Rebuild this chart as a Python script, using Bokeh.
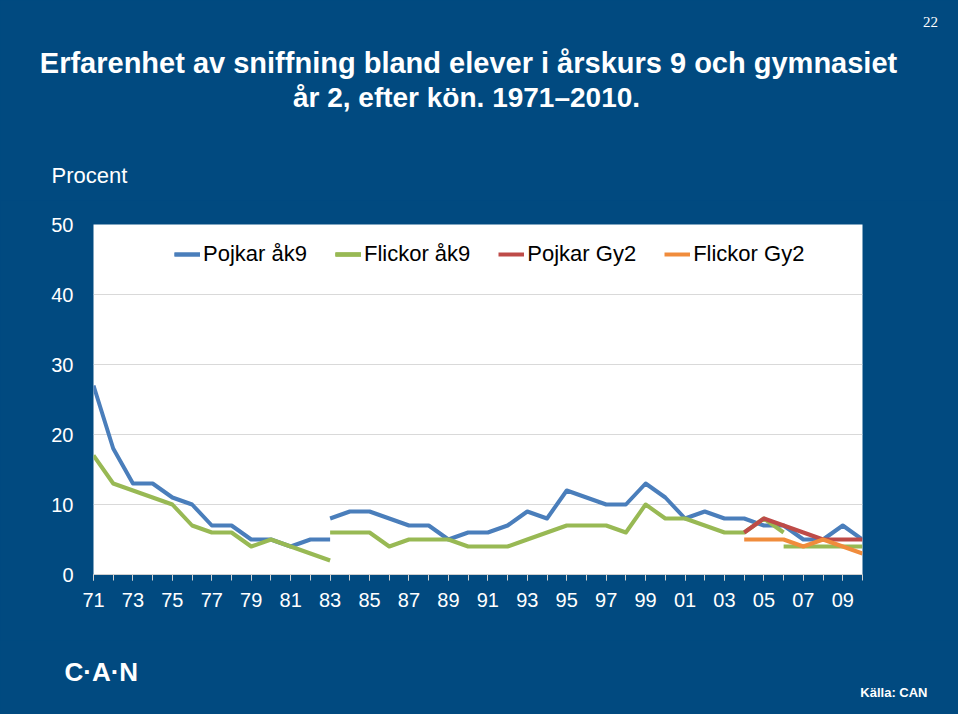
from bokeh.plotting import figure
from bokeh.layouts import column
from bokeh.models import Range1d, FixedTicker, Legend, LegendItem
from bokeh.core.properties import value
from bokeh.embed import file_html
from bokeh.resources import INLINE

# ---- data ----
years_a = [1971, 1972, 1973, 1974, 1975, 1976, 1977, 1978, 1979, 1980, 1981, 1982, 1983]
pojkar_ak9_a = [27, 18, 13, 13, 11, 10, 7, 7, 5, 5, 4, 5, 5]
flickor_ak9_a = [17, 13, 12, 11, 10, 7, 6, 6, 4, 5, 4, 3, 2]

years_b = [1983, 1984, 1985, 1986, 1987, 1988, 1989, 1990, 1991, 1992, 1993, 1994, 1995,
           1996, 1997, 1998, 1999, 2000, 2001, 2002, 2003, 2004, 2005, 2006, 2007, 2008,
           2009, 2010]
pojkar_ak9_b = [8, 9, 9, 8, 7, 7, 5, 6, 6, 7, 9, 8, 12, 11, 10, 10, 13, 11, 8, 9, 8, 8, 7, 7,
                5, 5, 7, 5]

years_fb = [1983, 1984, 1985, 1986, 1987, 1988, 1989, 1990, 1991, 1992, 1993, 1994, 1995,
            1996, 1997, 1998, 1999, 2000, 2001, 2002, 2003, 2004, 2005, 2006]
flickor_ak9_b = [6, 6, 6, 4, 5, 5, 5, 4, 4, 4, 5, 6, 7, 7, 7, 6, 10, 8, 8, 7, 6, 6, 8, 6]

years_fc = [2006, 2007, 2008, 2009, 2010]
flickor_ak9_c = [4, 4, 4, 4, 4]

years_gy = [2004, 2005, 2006, 2007, 2008, 2009, 2010]
pojkar_gy2 = [6, 8, 7, 6, 5, 5, 5]
flickor_gy2 = [5, 5, 5, 4, 5, 4, 3]

x_tick_years = [1971, 1973, 1975, 1977, 1979, 1981, 1983, 1985, 1987, 1989, 1991, 1993,
                1995, 1997, 1999, 2001, 2003, 2005, 2007, 2009]
x_tick_labels = ["71", "73", "75", "77", "79", "81", "83", "85", "87", "89", "91", "93",
                 "95", "97", "99", "01", "03", "05", "07", "09"]
all_years = list(range(1971, 2011))
y_ticks = [0, 10, 20, 30, 40, 50]

series_names = ["Pojkar åk9", "Flickor åk9", "Pojkar Gy2", "Flickor Gy2"]

title_1 = "Erfarenhet av sniffning bland elever i årskurs 9 och gymnasiet"
title_2 = "år 2, efter kön. 1971–2010."
page_no = "22"
y_title = "Procent"
logo = "C·A·N"
source = "Källa: CAN"

# ---- style ----
BG = "#014A80"
C_BLUE = "#4A7EBB"
C_GREEN = "#98B954"
C_RED = "#BE4B48"
C_ORANGE = "#F08C3C"
FONT = "Liberation Sans"

W = 958
TOP_H = 200          # header strip (page y 0..200)
CHART_H = 440        # chart strip  (page y 200..640)
BOT_H = 74           # footer strip (page y 640..714)
FL, FR, FT, FB = 93, 862, 224, 574  # frame edges in page pixels


def text_panel(h):
    f = figure(width=W, height=h, output_backend="svg", toolbar_location=None,
               x_range=Range1d(0, W), y_range=Range1d(h, 0),
               x_axis_type=None, y_axis_type=None,
               min_border=0, min_border_left=0, min_border_right=0,
               min_border_top=0, min_border_bottom=0)
    f.frame_align = False
    f.background_fill_color = BG
    f.border_fill_color = BG
    f.outline_line_color = None
    f.grid.visible = False
    return f


def put(f, txt, x, y, size, align="left", bold=False, font=FONT):
    f.text(x=[x], y=[y], text=[txt], text_color="white", text_font=value(font),
           text_font_size=size, text_font_style="bold" if bold else "normal",
           text_align=align, text_baseline="alphabetic")


# ---- header ----
top = text_panel(TOP_H)
put(top, title_1, 468, 62, "29px", "center", True)
put(top, title_2, 466, 97, "28px", "center", True)
put(top, page_no, 930, 21, "15px", "center", False, "Liberation Serif")
put(top, y_title, 51, 175, "22px")

# ---- chart ----
p = figure(width=W, height=CHART_H, output_backend="svg", toolbar_location=None,
           x_range=Range1d(1971, 2010), y_range=Range1d(0, 50),
           min_border_left=FL, min_border_right=W - FR,
           min_border_top=FT - TOP_H, min_border_bottom=TOP_H + CHART_H - FB)
p.frame_align = False
p.background_fill_color = "white"
p.border_fill_color = BG
p.outline_line_color = None

lw = 4
r_b1 = p.line(years_a, pojkar_ak9_a, line_color=C_BLUE, line_width=lw, line_join="round")
r_b2 = p.line(years_b, pojkar_ak9_b, line_color=C_BLUE, line_width=lw, line_join="round")
r_g1 = p.line(years_a, flickor_ak9_a, line_color=C_GREEN, line_width=lw, line_join="round")
r_g2 = p.line(years_fb, flickor_ak9_b, line_color=C_GREEN, line_width=lw, line_join="round")
r_g3 = p.line(years_fc, flickor_ak9_c, line_color=C_GREEN, line_width=lw, line_join="round")
r_r = p.line(years_gy, pojkar_gy2, line_color=C_RED, line_width=lw, line_join="round")
r_o = p.line(years_gy, flickor_gy2, line_color=C_ORANGE, line_width=lw, line_join="round")

legend = Legend(items=[
    LegendItem(label=series_names[0], renderers=[r_b1, r_b2]),
    LegendItem(label=series_names[1], renderers=[r_g1, r_g2, r_g3]),
    LegendItem(label=series_names[2], renderers=[r_r]),
    LegendItem(label=series_names[3], renderers=[r_o]),
], orientation="horizontal", location=(81, 307))
legend.background_fill_alpha = 0
legend.border_line_color = None
legend.padding = 4
legend.margin = 0
legend.glyph_width = 26
legend.glyph_height = 20
legend.label_standoff = 3
legend.spacing = 28
legend.label_text_font = FONT
legend.label_text_font_size = "22px"
legend.label_text_color = "#000000"
p.add_layout(legend, "center")

xa = p.xaxis[0]
xa.ticker = FixedTicker(ticks=x_tick_years, minor_ticks=all_years)
xa.major_label_overrides = {y: l for y, l in zip(x_tick_years, x_tick_labels)}
xa.axis_line_color = "#D0D0D0"
xa.axis_line_width = 1
xa.major_tick_line_color = "#D0D0D0"
xa.minor_tick_line_color = "#D0D0D0"
xa.major_tick_in = 0
xa.major_tick_out = 6
xa.minor_tick_in = 0
xa.minor_tick_out = 6
xa.major_label_standoff = 12
xa.major_label_text_color = "white"
xa.major_label_text_font = FONT
xa.major_label_text_font_size = "20px"

ya = p.yaxis[0]
ya.ticker = FixedTicker(ticks=y_ticks)
ya.axis_line_color = None
ya.major_tick_line_color = None
ya.minor_tick_line_color = None
ya.major_tick_out = 0
ya.major_tick_in = 0
ya.major_label_standoff = 20
ya.major_label_text_color = "white"
ya.major_label_text_font = FONT
ya.major_label_text_font_size = "20px"

p.xgrid.grid_line_color = None
p.ygrid.grid_line_color = "#D9D9D9"
p.ygrid.grid_line_width = 1

# ---- footer ----
bot = text_panel(BOT_H)
put(bot, logo, 64, 671 - 640, "26px", "left", True)
put(bot, source, 927, 692 - 640, "13px", "right", True)

layout = column(top, p, bot, spacing=0, styles={"background-color": BG})
open("out.html", "w").write(file_html(layout, INLINE))
